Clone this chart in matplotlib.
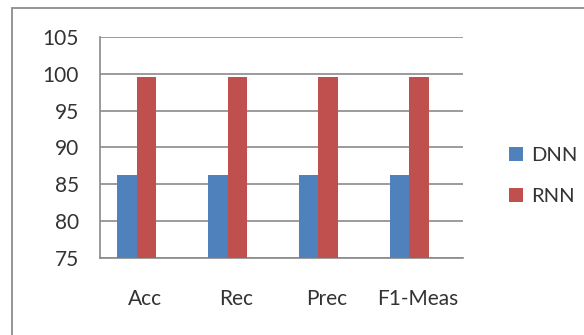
import matplotlib.pyplot as plt
import numpy as np
from matplotlib.patches import Rectangle

categories = ['Acc', 'Rec', 'Prec', 'F1-Meas']
dnn_values = [86.3, 86.3, 86.3, 86.3]
rnn_values = [99.5, 99.5, 99.5, 99.5]
y_ticks = [75, 80, 85, 90, 95, 100, 105]

plt.rcParams['font.family'] = ['Lato', 'DejaVu Sans']

fig = plt.figure(figsize=(5.84, 3.35), dpi=100)
ax = fig.add_axes([0.171, 0.230, 0.622, 0.660])

# outer chart frame, cut off at right and bottom
fig.patches.append(Rectangle((12 / 584, -0.1), 1.2, 1 - 8 / 335 + 0.1,
                             transform=fig.transFigure, fill=False,
                             edgecolor='#8c8c8c', linewidth=1.3))

x = np.arange(len(categories))
width = 0.215
shift = -0.094
ax.bar(x + shift - width / 2, [v - 75 for v in dnn_values], width, bottom=75,
       color='#4F81BD', label='DNN', zorder=3)
ax.bar(x + shift + width / 2, [v - 75 for v in rnn_values], width, bottom=75,
       color='#C0504D', label='RNN', zorder=3)

ax.set_xlim(-0.5, len(categories) - 0.5)
ax.set_ylim(75, 105)
ax.set_yticks(y_ticks)
ax.set_xticks(x)
ax.set_xticklabels(categories)
ax.yaxis.grid(True, color='#8a8a8a', linewidth=1.2, zorder=0)
ax.set_axisbelow(True)

for side in ['top', 'right']:
    ax.spines[side].set_visible(False)
for side in ['left', 'bottom']:
    ax.spines[side].set_color('#8a8a8a')
    ax.spines[side].set_linewidth(1.2)

ax.tick_params(axis='y', length=0, pad=15, labelsize=15, labelcolor='#333333')
ax.tick_params(axis='x', length=0, pad=22, labelsize=15, labelcolor='#333333')

fig.legend(loc='center left', bbox_to_anchor=(0.84, 0.475), frameon=False,
           fontsize=14.5, handlelength=0.7, handleheight=0.7,
           handletextpad=0.4, labelspacing=1.2, labelcolor='#333333')

plt.savefig('out.png', dpi=100)
